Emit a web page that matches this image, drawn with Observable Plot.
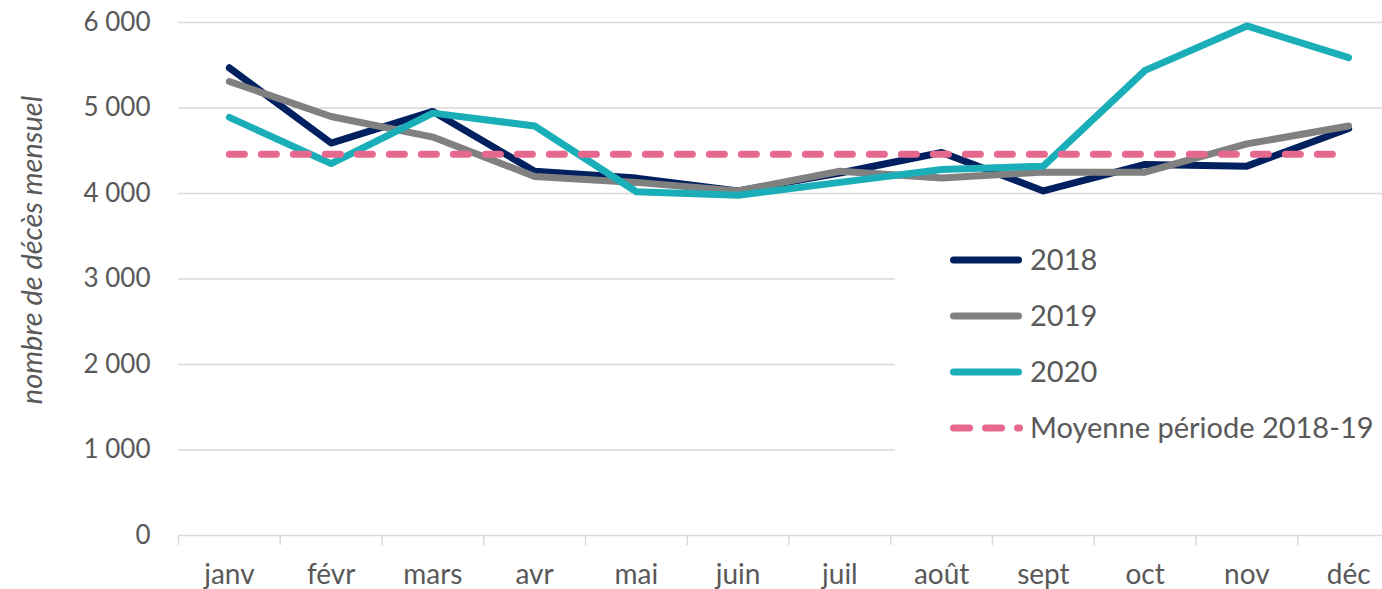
<!DOCTYPE html>
<html>
<head>
<meta charset="utf-8">
<script src="https://cdn.jsdelivr.net/npm/d3@7"></script>
<script src="https://cdn.jsdelivr.net/npm/@observablehq/plot@0.6"></script>
<style>
  html, body { margin: 0; padding: 0; background: #fff; overflow: hidden; }
  #wrap { position: relative; width: 1382px; height: 589px; overflow: hidden; font-family: Lato, "Open Sans", sans-serif; }
  #wrap > svg.plot, #wrap > svg:first-child { max-width: none !important; height: 589px !important; }
  #ytitle { position: absolute; left: 30px; top: 250px; transform: translate(-50%, -50%) rotate(-90deg);
            white-space: nowrap; font-style: italic; font-size: 29px; color: #595959; font-family: Lato, sans-serif; }
  #legend { position: absolute; left: 895px; top: 225px; }
</style>
</head>
<body>
<div id="wrap"></div>
<script>
// ---- data ----
const months = ["janv", "févr", "mars", "avr", "mai", "juin", "juil", "août", "sept", "oct", "nov", "déc"];
const d2018 = [5470, 4590, 4960, 4260, 4180, 4030, 4240, 4480, 4030, 4340, 4320, 4760];
const d2019 = [5310, 4900, 4660, 4200, 4130, 4030, 4260, 4180, 4250, 4250, 4580, 4790];
const d2020 = [4890, 4350, 4940, 4790, 4020, 3980, 4130, 4280, 4320, 5440, 5960, 5590];
const dMean = [4460, 4460, 4460, 4460, 4460, 4460, 4460, 4460, 4460, 4460, 4460, 4460];
const yTicks = [0, 1000, 2000, 3000, 4000, 5000, 6000];
const yTitle = "nombre de décès mensuel";
const seriesNames = ["2018", "2019", "2020", "Moyenne période 2018-19"];
const seriesColors = ["#002060", "#808080", "#1AAFB8", "#E7688E"];

const fmt = d => d3.format(",")(d).replace(/,/g, " ");
const textColor = "#595959";
const gridColor = "#D9D9D9";

const lineOpts = (color, dash) => ({
  x: (d, i) => i + 0.5,
  y: d => d,
  stroke: color,
  strokeWidth: 7,
  strokeLinecap: "round",
  strokeLinejoin: "round",
  ...(dash ? {strokeDasharray: dash} : {})
});

const chart = Plot.plot({
  width: 1399,
  height: 589,
  marginLeft: 178,
  marginRight: 0,
  marginTop: 22,
  marginBottom: 54,
  style: {fontFamily: "Lato, 'Open Sans', sans-serif", color: textColor, background: "#fff", overflow: "visible", maxWidth: "none"},
  x: {type: "linear", domain: [0, 12], axis: null},
  y: {domain: [0, 6000], axis: null},
  marks: [
    Plot.gridY(yTicks, {stroke: gridColor, strokeOpacity: 1, strokeWidth: 1.5}),
    Plot.axisY(yTicks, {tickSize: 0, tickPadding: 28, tickFormat: fmt, fontSize: 26, fill: textColor, label: null}),
    Plot.axisX(d3.range(13), {tickSize: 10, tickFormat: () => "", stroke: gridColor, strokeWidth: 1.5, label: null}),
    Plot.axisX(d3.range(12).map(i => i + 0.5), {tickSize: 0, tickPadding: 29, tickFormat: v => months[Math.round(v - 0.5)], fontSize: 28, fill: textColor, label: null}),
    Plot.line(d2018, lineOpts(seriesColors[0])),
    Plot.line(d2019, lineOpts(seriesColors[1])),
    Plot.line(d2020, lineOpts(seriesColors[2])),
    Plot.line(dMean, lineOpts(seriesColors[3], "15,17"))
  ]
});
chart.style.maxWidth = "none";
chart.style.width = "1399px";
chart.style.height = "589px";

const wrap = document.getElementById("wrap");
wrap.appendChild(chart);

// y-axis title
const yt = document.createElement("div");
yt.id = "ytitle";
yt.textContent = yTitle;
wrap.appendChild(yt);

// legend (inside the plot area, white box)
const lg = d3.create("svg").attr("id", "legend").attr("width", 500).attr("height", 240);
lg.append("rect").attr("x", 0).attr("y", 0).attr("width", 500).attr("height", 240).attr("fill", "#fff");
const rowY = [35, 91, 147, 203];
seriesNames.forEach((name, i) => {
  const g = lg.append("g").attr("transform", `translate(0,${rowY[i]})`);
  const ln = g.append("line").attr("x1", 58.5).attr("x2", i === 3 ? 124.5 : 123.5).attr("y1", 0).attr("y2", 0)
    .attr("stroke", seriesColors[i]).attr("stroke-width", 7).attr("stroke-linecap", "round");
  if (i === 3) ln.attr("stroke-dasharray", "16,16");
  g.append("text").attr("x", 135).attr("y", 0).attr("dy", "0.36em")
    .attr("font-size", 29).attr("fill", textColor)
    .attr("font-family", "Lato, 'Open Sans', sans-serif").text(name);
});
wrap.appendChild(lg.node());
</script>
</body>
</html>
